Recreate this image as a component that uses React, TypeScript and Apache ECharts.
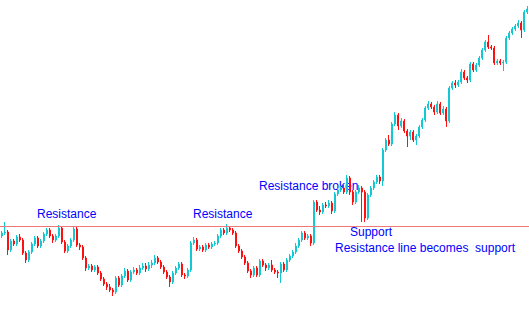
import React, { useEffect, useRef } from "react";
import * as echarts from "echarts";

// Prices (arbitrary price units; higher = up on screen)
const opens = [
  77, 80, 81, 63, 72, 69, 76, 73, 60, 53,
  61, 69, 75, 67, 72, 79, 83, 77, 73, 77,
  85, 71, 62, 67, 73, 84, 68, 66, 55, 45,
  47, 43, 46, 40, 34, 29, 26, 23, 21, 35,
  28, 37, 42, 33, 41, 43, 40, 45, 47, 44,
  48, 50, 55, 51, 46, 41, 36, 31, 40, 45,
  49, 38, 37, 43, 70, 73, 64, 66, 63, 68,
  66, 69, 70, 77, 83, 80, 85, 83, 80, 67,
  62, 56, 50, 42, 38, 45, 38, 52, 48, 45,
  48, 43, 41, 40, 49, 43, 53, 57, 61, 67,
  73, 80, 75, 77, 70, 111, 103, 101, 108, 107,
  110, 102, 119, 123, 125, 121, 135, 121, 111, 121,
  125, 121, 95, 118, 125, 131, 136, 132, 163, 173,
  169, 189, 198, 187, 192, 182, 177, 181, 173, 177,
  186, 193, 205, 209, 206, 201, 209, 200, 204, 192,
  225, 230, 228, 231, 241, 235, 233, 249, 243, 248,
  255, 263, 271, 266, 265, 250, 252, 250, 251, 275,
  280, 284, 287, 290, 283, 301,
];
const closes = [
  80, 81, 63, 72, 69, 76, 73, 60, 53, 61,
  69, 75, 67, 72, 79, 83, 77, 73, 77, 85,
  71, 62, 67, 73, 84, 68, 66, 55, 45, 47,
  43, 46, 40, 34, 29, 26, 23, 21, 35, 28,
  37, 42, 33, 41, 43, 40, 45, 47, 44, 48,
  50, 55, 51, 46, 41, 36, 31, 40, 45, 49,
  38, 37, 43, 70, 73, 64, 66, 63, 68, 66,
  69, 70, 77, 83, 80, 85, 83, 80, 67, 62,
  56, 50, 42, 38, 45, 38, 52, 48, 45, 48,
  43, 41, 40, 49, 43, 53, 57, 61, 67, 73,
  80, 75, 77, 70, 111, 103, 101, 108, 107, 110,
  102, 119, 123, 125, 121, 135, 121, 111, 121, 125,
  121, 95, 118, 125, 131, 136, 132, 163, 173, 169,
  189, 198, 187, 192, 182, 177, 181, 173, 177, 186,
  193, 205, 209, 206, 201, 209, 200, 204, 192, 225,
  230, 228, 231, 241, 235, 233, 249, 243, 248, 255,
  263, 271, 266, 265, 250, 252, 250, 251, 275, 280,
  284, 287, 290, 283, 301, 304,
];
const highs = [
  82, 91, 83, 74, 74, 78, 79, 75, 62, 63,
  71, 77, 77, 74, 81, 85, 85, 79, 79, 88,
  87, 73, 69, 75, 87, 86, 70, 68, 57, 49,
  49, 48, 48, 42, 36, 31, 29, 25, 37, 37,
  39, 45, 44, 43, 46, 45, 48, 50, 50, 51,
  53, 58, 57, 53, 48, 43, 38, 42, 47, 51,
  51, 40, 45, 72, 76, 75, 68, 68, 70, 70,
  71, 72, 79, 85, 85, 89, 87, 85, 82, 69,
  64, 58, 52, 44, 47, 47, 54, 54, 50, 50,
  53, 45, 43, 51, 51, 55, 59, 63, 70, 75,
  82, 82, 79, 79, 113, 113, 107, 110, 111, 113,
  112, 121, 125, 127, 128, 138, 137, 123, 123, 128,
  127, 123, 120, 127, 133, 138, 138, 165, 175, 178,
  191, 201, 200, 195, 194, 184, 183, 183, 179, 188,
  195, 207, 212, 211, 208, 212, 211, 207, 206, 227,
  232, 233, 233, 244, 243, 237, 251, 251, 250, 257,
  265, 273, 278, 268, 267, 254, 254, 253, 277, 282,
  286, 289, 293, 292, 303, 307,
];
const lows = [
  75, 78, 58, 61, 67, 67, 71, 58, 50, 51,
  59, 67, 65, 65, 70, 77, 75, 70, 71, 75,
  69, 60, 60, 65, 71, 66, 63, 53, 42, 43,
  41, 41, 38, 32, 27, 23, 21, 17, 19, 26,
  26, 35, 31, 31, 39, 38, 38, 43, 41, 42,
  45, 48, 49, 44, 39, 34, 26, 29, 38, 43,
  36, 34, 35, 41, 68, 62, 62, 61, 61, 64,
  64, 67, 68, 75, 78, 78, 81, 78, 65, 60,
  54, 48, 40, 35, 36, 36, 36, 46, 42, 43,
  41, 39, 35, 30, 41, 41, 51, 55, 59, 65,
  71, 73, 73, 67, 68, 101, 98, 99, 105, 105,
  99, 100, 117, 121, 119, 119, 118, 108, 109, 119,
  91, 91, 93, 116, 123, 129, 129, 127, 161, 167,
  167, 187, 183, 185, 180, 166, 173, 171, 168, 175,
  184, 191, 203, 204, 198, 199, 198, 198, 186, 190,
  223, 225, 226, 229, 233, 230, 231, 241, 241, 246,
  253, 261, 264, 263, 248, 248, 248, 242, 249, 273,
  278, 282, 285, 275, 281, 299,
];

const resistanceLevel = 87;

const annotations = [
  { text: "Resistance", x: 37, y: 214 },
  { text: "Resistance", x: 193, y: 214 },
  { text: "Resistance broken", x: 259, y: 186 },
  { text: "Support", x: 350, y: 231.5 },
  { text: "Resistance line becomes  support", x: 335, y: 248 },
];

export default function App() {
  const ref = useRef<HTMLDivElement>(null);

  useEffect(() => {
    if (!ref.current) return;
    const chart = echarts.init(ref.current, null, { renderer: "svg" });
    const categories = closes.map((_, i) => String(i + 1));
    const data = closes.map((c, i) => [opens[i], c, lows[i], highs[i]]);
    chart.setOption({
      animation: false,
      backgroundColor: "#ffffff",
      grid: { left: 0, right: 0, top: 0, bottom: 0 },
      xAxis: {
        type: "category",
        data: categories,
        show: false,
        boundaryGap: true,
      },
      yAxis: {
        type: "value",
        min: 0,
        max: 313,
        show: false,
        splitLine: { show: false },
      },
      series: [
        {
          type: "candlestick",
          data,
          barWidth: 1.5,
          itemStyle: {
            color: "#12c8d2",
            color0: "#ff0000",
            borderColor: "#12c8d2",
            borderColor0: "#ff1010",
            borderWidth: 1,
          },
          markLine: {
            silent: true,
            symbol: ["none", "none"],
            label: { show: false },
            lineStyle: { color: "#f07878", width: 1, type: "solid" },
            data: [{ yAxis: resistanceLevel }],
          },
        },
      ],
      graphic: annotations.map((a) => ({
        type: "text",
        x: a.x,
        y: a.y,
        style: {
          text: a.text,
          fill: "#0000ff",
          font: '12px Arial, "Liberation Sans", sans-serif',
          verticalAlign: "middle",
          align: "left",
        },
      })),
    });
    return () => chart.dispose();
  }, []);

  return (
    <div
      ref={ref}
      style={{ position: "fixed", left: 0, top: 0, width: 529, height: 313, background: "#fff" }}
    />
  );
}
